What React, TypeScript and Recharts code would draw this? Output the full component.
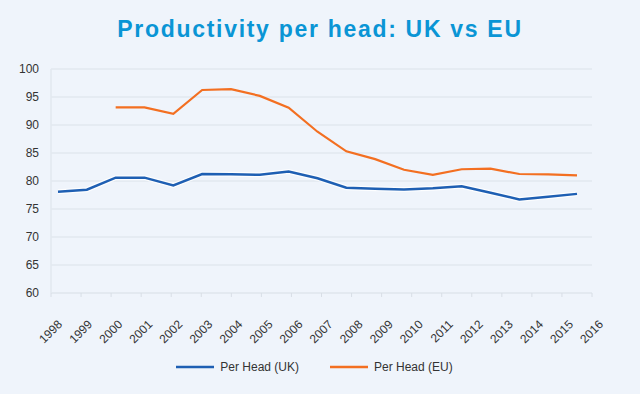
import {
  LineChart,
  Line,
  XAxis,
  YAxis,
  CartesianGrid,
  Legend,
} from "recharts";

const years = [
  "1998", "1999", "2000", "2001", "2002", "2003", "2004", "2005", "2006", "2007",
  "2008", "2009", "2010", "2011", "2012", "2013", "2014", "2015", "2016",
];

const perHeadUK = [
  78.1, 78.45, 80.6, 80.6, 79.2, 81.25, 81.2, 81.1, 81.7, 80.5,
  78.8, 78.6, 78.5, 78.7, 79.05, 77.9, 76.7, 77.2, 77.7,
];

const perHeadEU = [
  null, null, 93.15, 93.15, 92.0, 96.25, 96.4, 95.2, 93.1, 88.8,
  85.3, 83.9, 82.0, 81.1, 82.1, 82.2, 81.25, 81.2, 81.0,
];

const yTicks = [60, 65, 70, 75, 80, 85, 90, 95, 100];

const UK_COLOR = "#1e5fb3";
const EU_COLOR = "#f36f21";
const BG = "#eff4fb";
const GRID = "#e2e8ef";
const FONT = '"Liberation Sans", Arial, sans-serif';

const chartData = years.map((year, i) => ({
  year,
  uk: perHeadUK[i],
  eu: perHeadEU[i],
}));

const legendItems = [
  { label: "Per Head (UK)", color: UK_COLOR },
  { label: "Per Head (EU)", color: EU_COLOR },
];

const YearTick = ({ x, y, payload }: any) => {
  const ax = x + 12;
  const ay = y + 26;
  return (
    <text
      x={ax}
      y={ay}
      transform={`rotate(-45, ${ax}, ${ay})`}
      textAnchor="end"
      fontSize={12}
      fill="#333"
      fontFamily={FONT}
    >
      {payload.value}
    </text>
  );
};

const LegendContent = () => (
  <div
    style={{
      display: "flex",
      justifyContent: "center",
      alignItems: "center",
      height: 22,
      fontFamily: FONT,
      fontSize: 12,
      color: "#333",
    }}
  >
    {legendItems.map((item, i) => (
      <div
        key={item.label}
        style={{
          display: "flex",
          alignItems: "center",
          marginLeft: i === 0 ? 0 : 31,
        }}
      >
        <svg width={38} height={4} style={{ marginRight: 6 }}>
          <line x1={0} y1={2} x2={38} y2={2} stroke={item.color} strokeWidth={2.5} />
        </svg>
        <span>{item.label}</span>
      </div>
    ))}
  </div>
);

export default function App() {
  return (
    <div
      style={{
        position: "absolute",
        left: 0,
        top: 0,
        width: 640,
        height: 394,
        background: BG,
        fontFamily: FONT,
      }}
    >
      <div
        style={{
          position: "absolute",
          top: 16,
          left: 0,
          width: 640,
          textAlign: "center",
          fontSize: 23,
          fontWeight: 700,
          letterSpacing: 1.7,
          color: "#0a95d5",
          lineHeight: "26px",
        }}
      >
        Productivity per head: UK vs EU
      </div>
      <LineChart
        width={640}
        height={394}
        data={chartData}
        margin={{ top: 69, right: 48, bottom: 0, left: 0 }}
      >
        <CartesianGrid
          xAxisId="lbl"
          vertical={false}
          stroke={GRID}
          strokeWidth={1.5}
        />
        <XAxis
          xAxisId="lbl"
          dataKey="year"
          interval={0}
          height={69}
          padding={{ left: 0, right: 0 }}
          axisLine={{ stroke: GRID, strokeWidth: 1.5 }}
          tickLine={{ stroke: "#d8dee6" }}
          tickSize={4}
          tickMargin={2}
          tick={<YearTick />}
        />
        <XAxis
          xAxisId="pts"
          dataKey="year"
          hide
          padding={{ left: 7, right: 15 }}
        />
        <YAxis
          type="number"
          domain={[60, 100]}
          ticks={yTicks}
          width={51}
          axisLine={{ stroke: GRID, strokeWidth: 1.5 }}
          tickLine={false}
          tickSize={0}
          tickMargin={12}
          tick={{ fontSize: 12, fill: "#333", fontFamily: FONT }}
        />
        <Legend
          verticalAlign="bottom"
          height={32}
          content={<LegendContent />}
          wrapperStyle={{ top: 356, left: 0, width: 629 }}
        />
        <Line
          xAxisId="pts"
          type="linear"
          dataKey="uk"
          stroke="#ffffff"
          strokeWidth={5}
          strokeOpacity={0.85}
          dot={false}
          activeDot={false}
          legendType="none"
          isAnimationActive={false}
        />
        <Line
          xAxisId="pts"
          type="linear"
          dataKey="uk"
          name="Per Head (UK)"
          stroke={UK_COLOR}
          strokeWidth={2.5}
          dot={false}
          isAnimationActive={false}
        />
        <Line
          xAxisId="pts"
          type="linear"
          dataKey="eu"
          name="Per Head (EU)"
          stroke={EU_COLOR}
          strokeWidth={2.2}
          dot={false}
          isAnimationActive={false}
        />
      </LineChart>
    </div>
  );
}
